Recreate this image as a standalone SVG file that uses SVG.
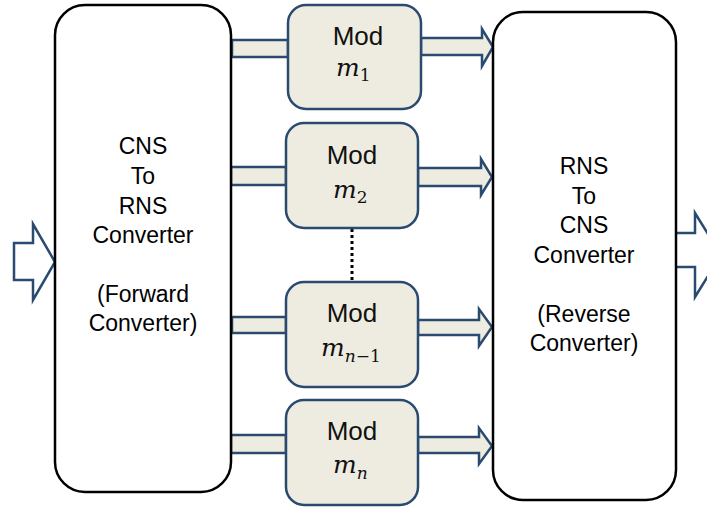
<svg xmlns="http://www.w3.org/2000/svg" width="707" height="508" viewBox="0 0 707 508">
<style>
.big{fill:#fff;stroke:#000;stroke-width:2.5}
.mod{fill:#EEECE1;stroke:#2B4A70;stroke-width:2.5}
.arr{fill:#EEECE1;stroke:#2B4A70;stroke-width:2.5;stroke-linejoin:miter}
.io{fill:#fff;stroke:#2B4A70;stroke-width:2.5;stroke-linejoin:miter}
.t{font-family:"Liberation Sans",Arial,sans-serif;font-size:23px;fill:#000;text-anchor:middle}
.m{font-family:"Liberation Sans",Arial,sans-serif;font-size:26px;fill:#111;text-anchor:middle}
.mi{font-family:"DejaVu Serif","Liberation Serif",serif;font-style:italic;font-size:25px;fill:#111}
.sub{font-family:"DejaVu Serif","Liberation Serif",serif;font-size:17px;fill:#111}
</style>
<g id="connectors">
<path class="io" d="M14,243 H33 V224 L55,262 L33,300 V280 H14 Z"/>
<path class="io" d="M675,233 H695 V213 L721,255 L695,297 V267 H675 Z"/>
<rect class="arr" x="232" y="40" width="56" height="17"/>
<rect class="arr" x="231" y="167" width="55" height="18"/>
<rect class="arr" x="232" y="317" width="54" height="16"/>
<rect class="arr" x="231" y="435" width="55" height="18"/>
<path class="arr" d="M421,38 H482 V29 L493,47 L482,66 V55 H421 Z"/>
<path class="arr" d="M418,168 H481 V159 L492,177 L481,195 V186 H418 Z"/>
<path class="arr" d="M418,320 H479 V309 L492,327 L479,346 V335 H418 Z"/>
<path class="arr" d="M418,437 H479 V428 L492,446 L479,464 V453 H418 Z"/>
<line x1="352" y1="229" x2="352" y2="282" stroke="#000" stroke-width="3" stroke-dasharray="3,3"/>
</g>
<g id="forward">
<rect class="big" x="55" y="5" width="176" height="487" rx="30"/>
<text class="t" x="143" y="154">CNS</text>
<text class="t" x="143" y="184">To</text>
<text class="t" x="143" y="214">RNS</text>
<text class="t" x="143" y="243">Converter</text>
<text class="t" x="143" y="302">(Forward</text>
<text class="t" x="143" y="331">Converter)</text>
</g>
<g id="reverse">
<rect class="big" x="493" y="12" width="183" height="488" rx="30"/>
<text class="t" x="584" y="174">RNS</text>
<text class="t" x="584" y="204">To</text>
<text class="t" x="584" y="233">CNS</text>
<text class="t" x="584" y="263">Converter</text>
<text class="t" x="584" y="322">(Reverse</text>
<text class="t" x="584" y="351">Converter)</text>
</g>
<g id="mod1">
<rect class="mod" x="288" y="5" width="133" height="104" rx="18"/>
<text class="m" x="358" y="45">Mod</text>
<text x="336" y="76"><tspan class="mi">m</tspan><tspan class="sub" dy="5">1</tspan></text>
</g>
<g id="mod2">
<rect class="mod" x="286" y="123" width="132" height="105" rx="18"/>
<text class="m" x="352" y="164">Mod</text>
<text x="333" y="198"><tspan class="mi">m</tspan><tspan class="sub" dy="5">2</tspan></text>
</g>
<g id="modn1">
<rect class="mod" x="286" y="282" width="132" height="105" rx="18"/>
<text class="m" x="352" y="322">Mod</text>
<text x="321" y="356"><tspan class="mi">m</tspan><tspan class="sub" dy="6" font-style="italic">n</tspan><tspan class="sub">−1</tspan></text>
</g>
<g id="modn">
<rect class="mod" x="286" y="400" width="132" height="105" rx="18"/>
<text class="m" x="352" y="440">Mod</text>
<text x="333" y="473"><tspan class="mi">m</tspan><tspan class="sub" dy="6" font-style="italic">n</tspan></text>
</g>
</svg>
